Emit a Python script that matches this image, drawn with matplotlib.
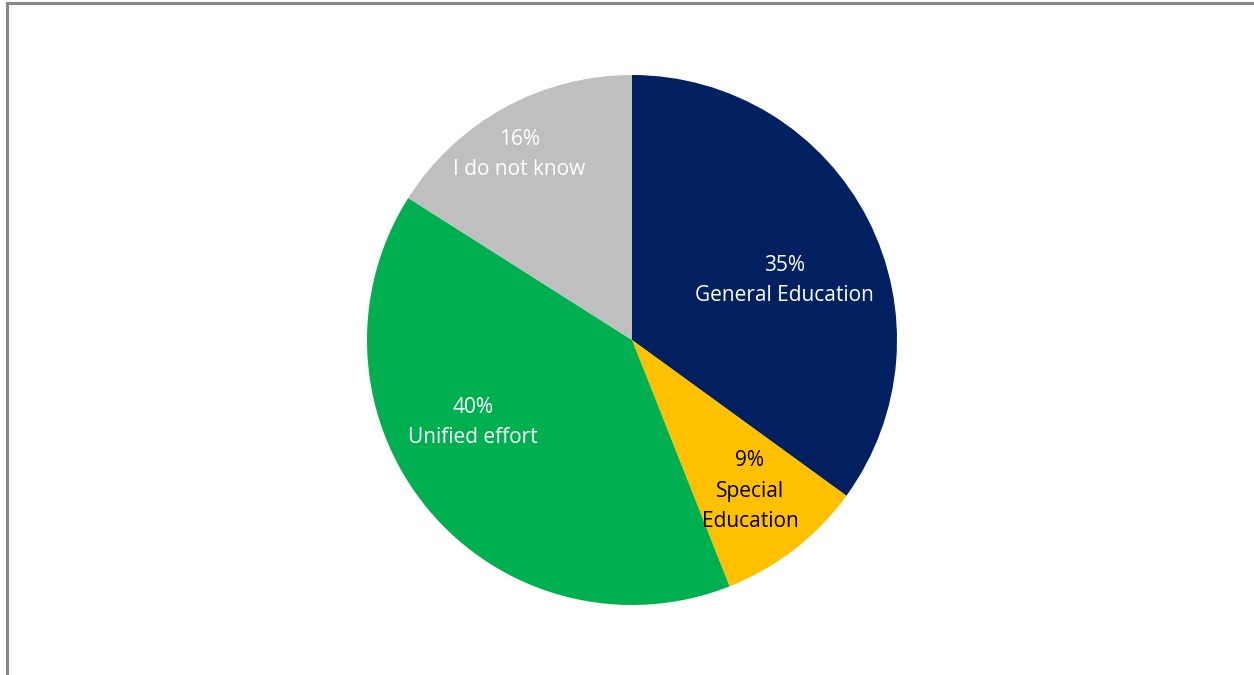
import matplotlib.pyplot as plt
from matplotlib.lines import Line2D

categories = ["General Education", "Special\nEducation", "Unified effort", "I do not know"]
values = [35, 9, 40, 16]
colors = ["#002060", "#FFC000", "#00B050", "#BFBFBF"]
text_colors = ["white", "black", "white", "white"]
label_pos = [(0.574, 0.226), (0.445, -0.57), (-0.60, -0.31), (-0.426, 0.70)]

plt.rcParams['font.family'] = ['Open Sans', 'DejaVu Sans']

fig = plt.figure(figsize=(12.54, 6.75), dpi=100)
ax = fig.add_axes([367 / 1254, 70 / 675, 530 / 1254, 530 / 675])

ax.pie(values, colors=colors, startangle=90, counterclock=False, radius=1,
       wedgeprops=dict(linewidth=0))
ax.set_xlim(-1, 1)
ax.set_ylim(-1, 1)
ax.set_aspect("equal")
ax.axis("off")

for cat, v, tc, (x, y) in zip(categories, values, text_colors, label_pos):
    ax.text(x, y, str(v) + "%\n" + cat, ha="center", va="center", color=tc,
            fontsize=15, linespacing=1.57)

# frame border (top and left visible)
fig.add_artist(Line2D([7 / 1254, 1], [1 - 3 / 675, 1 - 3 / 675], color="#888888", lw=2.2,
                      transform=fig.transFigure))
fig.add_artist(Line2D([7 / 1254, 7 / 1254], [0, 1 - 3 / 675], color="#888888", lw=2.2,
                      transform=fig.transFigure))

fig.savefig("out.png", dpi=100)
